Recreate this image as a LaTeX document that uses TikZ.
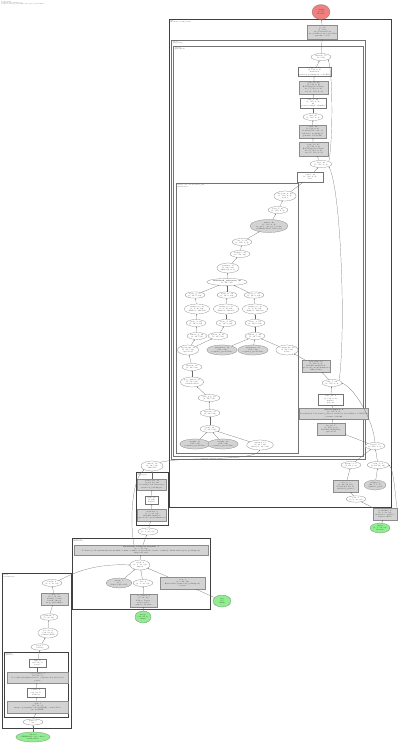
\documentclass[tikz,border=0pt]{standalone}
\usetikzlibrary{shapes.geometric,arrows.meta}
\definecolor{lgray}{HTML}{D3D3D3}
\definecolor{startred}{HTML}{F08080}
\definecolor{endgreen}{HTML}{90EE90}
\begin{document}
\begin{tikzpicture}[x=1pt,y=-1pt,
 every node/.style={font=\fontsize{1.7}{2.1}\selectfont, align=center, inner sep=0.4pt, text=black!85},
 ell/.style={ellipse, draw=black!55, line width=0.2pt, fill=white},
 gell/.style={ellipse, draw=black!55, line width=0.2pt, fill=lgray},
 wbox/.style={rectangle, draw=black!55, line width=0.2pt, fill=white},
 gbox/.style={rectangle, draw=black!45, line width=0.2pt, fill=lgray},
 startn/.style={ellipse, draw=black!55, line width=0.2pt, fill=startred},
 endn/.style={ellipse, draw=black!55, line width=0.2pt, fill=endgreen},
 clthick/.style={draw=black!75, line width=0.7pt},
 clthin/.style={draw=black!55, line width=0.3pt},
 cllabel/.style={anchor=north west, align=left, inner sep=0.3pt, font=\fontsize{1.3}{1.6}\selectfont},
 edge/.style={draw=black!60, line width=0.2pt, -{Stealth[length=1.2pt,width=0.9pt]}},
]
\useasboundingbox[fill=white] (0,0) rectangle (400,743);
\node[cllabel, font=\fontsize{1.2}{1.3}\selectfont] (title) at (1,1) {model\_graph\\torchview traced module tree\\depth=5, expand\_nested=True, hide\_inner\_tensors=False};

% clusters
\draw[clthick] (169,19) rectangle (391,507);
\draw[clthin] (171.5,40) rectangle (365,459);
\draw[clthin] (173.5,46) rectangle (363,456);
\draw[clthin] (176,183) rectangle (298,453);
\draw[clthick] (136,472) rectangle (168,525);
\draw[clthick] (72,538) rectangle (210,609);
\draw[clthick] (2,573) rectangle (71,728);
\draw[clthick] (4,652) rectangle (68,717);
\node[cllabel] (lA) at (170,20) {Net\\(ResNet18, 11.2M params)};
\node[cllabel] (lB) at (172.5,41) {layer4\\(Sequential)};
\node[cllabel] (lC) at (174.5,47) {layer4.1\\(BasicBlock)};
\node[cllabel] (lD) at (177,184) {layer4.1.conv\_block.residual\_path\\(ModuleList)};
\node[cllabel] (lE) at (137,473) {stem\\(Sequential)};
\node[cllabel] (lF) at (73,539) {preprocess\\(Transform)};
\node[cllabel] (lG) at (3,574) {loader\\(DataPipeline)};
\node[cllabel] (lH) at (5,653) {augment\\(Compose)};

% right main chain
\node[startn, minimum width=18, minimum height=15] (n0) at (321,12) {output\\(1, 10)\\float32};
\node[gbox, minimum width=29, minimum height=14] (n1) at (322.5,32) {fc: 52\\(1, 512)\\in\_features=512\\out\_features=10, bias=True\\params: 5,130};
\node[ell, minimum width=20, minimum height=7] (n2) at (321,57) {flatten: 51\\(1, 512)};
\node[wbox, minimum width=31, minimum height=9] (n3) at (314.5,71.5) {avgpool: 50\\(1, 512, 4, 4)\\kernel=4\\stride=4, padding=0, ceil=False};
\node[gbox, minimum width=29, minimum height=13] (n4) at (313.5,87.5) {relu\_16: 49\\(1, 512, 4, 4)\\ReLU(inplace=True)\\in: (1, 512, 4, 4)\\out: (1, 512, 4, 4)};
\node[wbox, minimum width=26, minimum height=10] (n5) at (313,103) {add\_8: 48\\(1, 512, 4, 4)\\x2\\operator.add(x, identity)};
\node[ell, minimum width=20, minimum height=7] (n6) at (313,117) {bn2: 47\\(1, 512, 4, 4)};
\node[gbox, minimum width=27, minimum height=13] (n7) at (312.5,131.5) {conv2: 46\\(1, 512, 4, 4)\\Conv2d(512, 512, 3)\\stride=1, padding=1\\params: 2,359,296};
\node[gbox, minimum width=29, minimum height=14] (n8) at (313.5,149) {relu\_15: 45\\(1, 512, 4, 4)\\ReLU(inplace=True)\\in: (1, 512, 4, 4)\\out: (1, 512, 4, 4)};
\node[ell, minimum width=22, minimum height=7] (n9) at (321,164) {bn1: 44\\(1, 512, 4, 4)};
\node[wbox, minimum width=26, minimum height=10] (n10) at (310,177) {conv1: 43\\(1, 512, 4, 4)\\3x3};

% cluster D
\node[ell, minimum width=20, minimum height=10] (d1) at (285,196) {dropout\_8: 42\\(1, 512, 4, 4)\\p=0.1};
\node[ell, minimum width=20, minimum height=7] (d2) at (278,210) {gelu\_7: 41\\(1, 512, 4, 4)};
\node[gell, minimum width=38, minimum height=13] (d3) at (269,226) {mixer: 40\\(1, 512, 4, 4)\\in\_proj, out\_proj, norm\\residual=True, scale=1.0};
\node[ell, minimum width=18, minimum height=7] (d4) at (242,242) {cat\_3: 39\\(1, 512, 4, 4)};
\node[ell, minimum width=20, minimum height=7] (d5) at (240,254) {reshape: 38\\(1, 512, 16)};
\node[ell, minimum width=20, minimum height=10] (d6) at (228,268) {permute: 37\\(1, 16, 512)\\dims=(0, 2, 1)};
\node[ell, minimum width=35, minimum height=7] (d7) at (227,282) {\textbf{multihead\_attention: 36}\\(1, 16, 512)};
\node[ell, minimum width=20, minimum height=6] (d8a) at (195,295) {view\_q: 35\\(1, 16, 8, 64)};
\node[ell, minimum width=20, minimum height=6] (d8b) at (227,295) {view\_k: 34\\(1, 16, 8, 64)};
\node[ell, minimum width=20, minimum height=6] (d8c) at (254,295) {view\_v: 33\\(1, 16, 8, 64)};
\node[ell, minimum width=21, minimum height=10] (d9a) at (197,309) {transpose: 32\\(1, 8, 16, 64)\\dim0=1, dim1=2};
\node[ell, minimum width=21, minimum height=10] (d9b) at (226,309) {transpose: 31\\(1, 8, 16, 64)\\dim0=1, dim1=2};
\node[ell, minimum width=21, minimum height=10] (d9c) at (255,309) {transpose: 30\\(1, 8, 16, 64)\\dim0=1, dim1=2};
\node[ell, minimum width=20, minimum height=7] (d10a) at (196,323) {view\_1: 29\\(1, 16, 8, 64)};
\node[ell, minimum width=20, minimum height=7] (d10b) at (226,323) {view\_2: 28\\(1, 16, 8, 64)};
\node[ell, minimum width=20, minimum height=7] (d10c) at (255,323) {view\_3: 27\\(1, 16, 8, 64)};
\node[ell, minimum width=20, minimum height=7] (d11a) at (197,336) {linear\_q: 26\\(1, 16, 512)};
\node[ell, minimum width=20, minimum height=7] (d11b) at (218,336) {linear\_k: 25\\(1, 16, 512)};
\node[ell, minimum width=20, minimum height=7] (d11c) at (255,336) {linear\_v: 24\\(1, 16, 512)};
\node[ell, minimum width=20, minimum height=10] (d12a) at (188,350) {layernorm: 23\\(1, 16, 512)\\eps=1e-05};
\node[gell, minimum width=27, minimum height=10] (d12b) at (222,350) {parameter: 22\\(512, 512)\\requires\_grad=True};
\node[gell, minimum width=30, minimum height=10] (d12c) at (253,350) {parameter: 21\\(512, 512)\\requires\_grad=True};
\node[ell, minimum width=20, minimum height=10] (d12d) at (287,350) {contiguous: 20\\(1, 16, 512)\\dense};
\node[ell, minimum width=20, minimum height=7] (d13) at (192,367) {flatten: 18\\(1, 16, 512)};
\node[ell, minimum width=22, minimum height=10] (d14) at (192,382) {pos\_embed: 17\\(1, 16, 512)\\learned=True};
\node[ell, minimum width=22, minimum height=7] (d15) at (209,398) {add\_pos: 16\\(1, 16, 512)};
\node[ell, minimum width=20, minimum height=7] (d16) at (210,413) {squeeze: 15\\(1, 16, 512)};
\node[ell, minimum width=20, minimum height=7] (d17) at (210,429) {split: 14\\(1, 16, 512)};
\node[gell, minimum width=27, minimum height=10] (d18a) at (195,444) {weight: 13\\(512, 512)\\requires\_grad=True};
\node[gell, minimum width=30, minimum height=10] (d18b) at (223,444) {weight: 12\\(512, 512)\\requires\_grad=True};
\node[ell, minimum width=20, minimum height=10] (d18c) at (260,445) {expand: 11\\(1, 16, 512)\\size=(-1, 16, 512)};

% right column of cluster C
\node[gbox, minimum width=28, minimum height=12] (r1) at (316,366) {bn1\_skip: 19\\(1, 512, 4, 4)\\BatchNorm2d(512)\\eps=1e-05, momentum=0.1\\affine=True};
\node[ell, minimum width=20, minimum height=7] (r2) at (332,383) {add\_7: 10\\(1, 512, 4, 4)};
\node[wbox, minimum width=25, minimum height=11] (r3) at (330.5,399.5) {relu\_14: 9\\(1, 512, 4, 4)\\inplace\\in=out};
\node[gbox, minimum width=64, minimum height=11] (r4) at (334,413.5) {\textbf{downsample.0: 8}\\(1, 512, 4, 4)\\Conv2d(256, 512, kernel\_size=1, stride=2, bias=False) + BN(512)\\params: 132,096};
\node[gbox, minimum width=28, minimum height=12] (r5) at (331,429) {bn\_in: 7\\(1, 256, 8, 8)\\BatchNorm2d(256)\\eps=1e-05};

% cluster A bottom
\node[ell, minimum width=20, minimum height=7] (a1) at (375,446) {layer3: 6\\(1, 256, 8, 8)};
\node[ell, minimum width=20, minimum height=7] (a2) at (351,465) {maxpool: 5\\(1, 64, 8, 8)};
\node[ell, minimum width=20, minimum height=7] (a3) at (378,465) {relu\_1: 4\\(1, 64, 16, 16)};
\node[gbox, minimum width=25, minimum height=12] (a4) at (345.5,486) {conv\_s: 3\\(1, 64, 16, 16)\\Conv2d(3, 64, 7)\\stride=2, pad=3};
\node[gell, minimum width=22, minimum height=10] (a5) at (375,485) {weight: 2\\(64, 3, 7, 7)\\requires\_grad};
\node[ell, minimum width=16, minimum height=6] (a6) at (356,499) {pad: 1\\(1, 3, 38, 38)};
\node[gbox, minimum width=24, minimum height=12] (o1) at (385,514) {normalize: 0\\(1, 3, 32, 32)\\mean=0.5, std=0.5\\inplace=False};
\node[endn, minimum width=18, minimum height=10] (o2) at (380,528) {input\\(1, 3, 32, 32)\\float32};

% left middle
\node[ell, minimum width=22, minimum height=10] (o3) at (152,466) {embed: 12\\(1, 16, 512)\\dim=512};
\node[gbox, minimum width=29, minimum height=11] (e1) at (152,484.5) {stem.conv: 11\\(1, 64, 16, 16)\\Conv2d(3, 64, kernel=3)\\stride=2, padding=1};
\node[wbox, minimum width=13, minimum height=8] (e2) at (151.5,500) {relu: 10\\(1, 64)\\inplace};
\node[gbox, minimum width=29, minimum height=12] (e3) at (152,515) {stem.bn: 9\\(1, 3, 32, 32)\\BatchNorm2d(3)\\eps=1e-05, momentum=0.1};
\node[ell, minimum width=16, minimum height=7] (o4) at (148,531.5) {to: 8\\(1, 3, 32, 32)};

% cluster F
\node[gbox, minimum width=134, minimum height=10] (f1) at (141,550) {\textbf{transforms.Compose.forward: 7}\\(1, 3, 32, 32)\\ToTensor(), Normalize(mean=(0.4914, 0.4822, 0.4465), std=(0.2470, 0.2435, 0.2616)), RandomCrop(32, padding=4)\\dtype=float32};
\node[ell, minimum width=20, minimum height=10] (f2) at (140,565) {stack: 6\\(1, 3, 32, 32)\\dim=0};
\node[gell, minimum width=25, minimum height=10] (f3) at (119,583) {mean: 5\\(3,)\\(0.49, 0.48, 0.45)};
\node[ell, minimum width=18, minimum height=7] (f4) at (143,583) {div: 4\\(1, 3, 32, 32)};
\node[gbox, minimum width=45, minimum height=12] (f5) at (182.5,583) {crop: 3\\(1, 3, 40, 40)\\RandomCrop(size=32, padding=4)\\seed=0};
\node[gbox, minimum width=27, minimum height=13] (f6) at (143.5,600.5) {to\_tensor: 2\\(3, 32, 32)\\PIL to Tensor\\scale=1/255\\uint8 to float32};
\node[endn, minimum width=15, minimum height=12] (g1) at (143,617) {image\\(32, 32, 3)\\uint8};
\node[endn, minimum width=18, minimum height=12] (g2) at (222,601) {rng\\(1,)\\int64};

% cluster G
\node[ell, minimum width=18, minimum height=7] (G1) at (52,583) {batch: 9\\(1, 3, 32, 32)};
\node[gbox, minimum width=27, minimum height=12] (G2) at (54.5,599) {collate: 8\\(1, 3, 32, 32)\\default\_collate\\batch\_size=1\\drop\_last=False};
\node[ell, minimum width=18, minimum height=6] (G3) at (49,617) {getitem: 7\\(3, 32, 32)};
\node[ell, minimum width=20, minimum height=10] (G4) at (48,633) {decode: 6\\(32, 32, 3)\\format=PNG};
\node[ell, minimum width=18, minimum height=6] (G5) at (40,647) {read: 5\\(3072,)};
\node[wbox, minimum width=17, minimum height=8] (H1) at (37.5,663) {flip: 4\\(32, 32, 3)\\p=0.5};
\node[gbox, minimum width=61, minimum height=11] (H2) at (37.5,677.5) {color\_jitter: 3\\(32, 32, 3)\\ColorJitter(brightness=0.2, contrast=0.2, hue=0.1)\\p=0.8};
\node[wbox, minimum width=18, minimum height=9] (H3) at (36,692.5) {resize: 2\\(32, 32, 3)\\bilinear};
\node[gbox, minimum width=61, minimum height=12] (H4) at (37.5,707) {open: 1\\(32, 32, 3)\\Image.open(path).convert(RGB), cache=True\\mode=RGB};
\node[ell, minimum width=20, minimum height=6] (G6) at (33,722) {path: 0\\str};
\node[endn, minimum width=25, minimum height=10] (G7) at (33,737) {dataset\\CIFAR10(root=./data)\\train=True};

% edges main chain
\draw[edge] (n1) -- (n0);
\draw[edge] (n2) -- (n1);
\draw[edge] (n3) -- (n2);
\draw[edge] (n4) -- (n3);
\draw[edge] (n5) -- (n4);
\draw[edge] (n6) -- (n5);
\draw[edge] (n7) -- (n6);
\draw[edge] (n8) -- (n7);
\draw[edge] (n9) -- (n8);
\draw[edge] (n10) -- (n9);
\draw[edge] (n9.north east) .. controls (333,140) and (333,75) .. (n2.south east);
\draw[edge] (d1) -- (n10);
\draw[edge] (d2) -- (d1);
\draw[edge] (d3) -- (d2);
\draw[edge] (d4) -- (d3);
\draw[edge] (d5) -- (d4);
\draw[edge] (d6) -- (d5);
\draw[edge] (d7) -- (d6);
\draw[edge] (d8a) -- (d7);
\draw[edge] (d8b) -- (d7);
\draw[edge] (d8c) -- (d7);
\draw[edge] (d9a) -- (d8a);
\draw[edge] (d9b) -- (d8b);
\draw[edge] (d9c) -- (d8c);
\draw[edge] (d10a) -- (d9a);
\draw[edge] (d10b) -- (d9b);
\draw[edge] (d10c) -- (d9c);
\draw[edge] (d11a) -- (d10a);
\draw[edge] (d11b) -- (d10b);
\draw[edge] (d11c) -- (d10c);
\draw[edge] (d12a) -- (d11a);
\draw[edge] (d12a) -- (d11b);
\draw[edge] (d12b) -- (d11c);
\draw[edge] (d12c) -- (d11c);
\draw[edge] (d12d) -- (d11c);
\draw[edge] (r1) -- (d12d);
\draw[edge] (d13) -- (d12a);
\draw[edge] (d14) -- (d13);
\draw[edge] (d15) -- (d14);
\draw[edge] (d16) -- (d15);
\draw[edge] (d17) -- (d16);
\draw[edge] (d18a) -- (d17);
\draw[edge] (d18b) -- (d17);
\draw[edge] (d18c) -- (d17);
\draw[edge] (o3.north east) .. controls (185,456) and (252,462) .. (d18c.south);
% right column
\draw[edge] (r2) -- (r1);
\draw[edge] (r2.north east) .. controls (346,330) and (341,190) .. (n9.south east);
\draw[edge] (r3) -- (r2);
\draw[edge] (r4) -- (r3);
\draw[edge] (r5) -- (r4);
\draw[edge] (a1) -- (r5);
\draw[edge] (a1.north) .. controls (373,420) and (356,390) .. (r2.east);
\draw[edge] (a2) -- (a1);
\draw[edge] (a3) -- (a1);
\draw[edge] (a4) -- (a2);
\draw[edge] (a6) -- (a4);
\draw[edge] (a5) -- (a3);
\draw[edge] (o1.north east) .. controls (395,495) and (394,470) .. (a3.east);
\draw[edge] (o1) -- (a6);
\draw[edge] (o2) -- (o1);
% left middle
\draw[edge] (e1) -- (o3);
\draw[edge] (e2) -- (e1);
\draw[edge] (e3) -- (e2);
\draw[edge] (o4) -- (e3);
\draw[edge] (f1) -- (o4);
\draw[edge] ([xshift=-7pt]f1.north) .. controls (130,525) and (131,480) .. (o3.south west);
\draw[edge] (f2) -- (f1);
\draw[edge] (f3) -- (f2);
\draw[edge] (f4) -- (f2);
\draw[edge] (f5) -- (f2);
\draw[edge] (f6) -- (f4);
\draw[edge] (g1) -- (f6);
\draw[edge] (g2) -- (f5);
\draw[edge] (G1.north east) .. controls (85,566) and (110,564) .. (f2.west);
\draw[edge] (G2) -- (G1);
\draw[edge] (G3) -- (G2);
\draw[edge] (G4) -- (G3);
\draw[edge] (G5) -- (G4);
\draw[edge] (H1) -- (G5);
\draw[edge] (H2) -- (H1);
\draw[edge] (H3) -- (H2);
\draw[edge] (H4) -- (H3);
\draw[edge] (G6) -- (H4);
\draw[edge] (G7) -- (G6);
\end{tikzpicture}
\end{document}
